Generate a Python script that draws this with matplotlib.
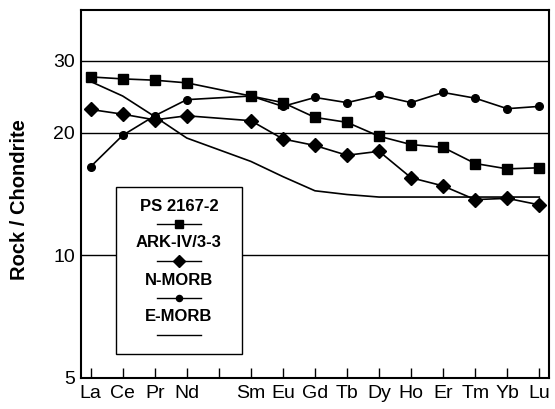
import matplotlib
matplotlib.use("Agg")
import matplotlib.pyplot as plt
from matplotlib.patches import Rectangle
from matplotlib.lines import Line2D

plt.rcParams['font.family'] = ['Liberation Sans', 'DejaVu Sans']

elements = ["La", "Ce", "Pr", "Nd", "Pm", "Sm", "Eu", "Gd", "Tb", "Dy", "Ho", "Er", "Tm", "Yb", "Lu"]
tick_labels = ["La", "Ce", "Pr", "Nd", "", "Sm", "Eu", "Gd", "Tb", "Dy", "Ho", "Er", "Tm", "Yb", "Lu"]
plot_elements = ["La", "Ce", "Pr", "Nd", "Sm", "Eu", "Gd", "Tb", "Dy", "Ho", "Er", "Tm", "Yb", "Lu"]

ps2167 = [27.4, 27.1, 26.9, 26.5, 24.6, 23.7, 21.8, 21.2, 19.6, 18.7, 18.4, 16.8, 16.3, 16.4]
ark = [22.8, 22.2, 21.5, 22.0, 21.4, 19.3, 18.6, 17.6, 18.0, 15.5, 14.8, 13.7, 13.8, 13.3]
nmorb = [16.5, 19.7, 22.0, 24.1, 24.6, 23.2, 24.4, 23.7, 24.7, 23.7, 25.1, 24.3, 22.9, 23.2]
emorb = [26.7, 24.6, 21.9, 19.4, 17.0, 15.6, 14.4, 14.1, 13.9, 13.9, 13.9, 13.9, 13.9, 13.9]

series_names = ["PS 2167-2", "ARK-IV/3-3", "N-MORB", "E-MORB"]
series_values = [ps2167, ark, nmorb, emorb]
markers = ["s", "D", "o", None]
msizes = [6.5, 7.5, 5.5, 0]

yticks = [5, 10, 20, 30]
gridvals = [10, 20, 30]

fig = plt.figure(figsize=(5.55, 4.09), dpi=100)
ax = fig.add_axes([0.146, 0.0758, 0.843, 0.8998])

xpos = [elements.index(e) for e in plot_elements]
for vals, m, ms in zip(series_values, markers, msizes):
    ax.plot(xpos, vals, color='black', lw=1.2, marker=m, markersize=ms, zorder=3)

for g in gridvals:
    ax.axhline(g, color='black', lw=1.0, zorder=1)

ax.set_yscale('log')
ax.set_ylim(5, 40)
ax.set_xlim(-0.3, 14.3)
ax.set_yticks(yticks)
ax.set_yticklabels([str(v) for v in yticks], fontsize=14)
ax.yaxis.set_minor_locator(matplotlib.ticker.NullLocator())
ax.tick_params(axis='y', length=0, pad=4.5)
ax.set_xticks(range(len(elements)))
ax.set_xticklabels(tick_labels, fontsize=14)
ax.tick_params(axis='x', direction='in', length=7, width=1.0, pad=5)
for s in ax.spines.values():
    s.set_linewidth(1.5)
ax.set_ylabel("Rock / Chondrite", fontsize=14.5, fontweight='bold')
ax.yaxis.set_label_coords(-0.112, 0.484)

# legend box
ax.add_patch(Rectangle((0.0748, 0.065), 0.2692, 0.454, transform=ax.transAxes,
                       facecolor='white', edgecolor='black', lw=1.0, zorder=4))
text_y = [0.465, 0.367, 0.264, 0.166]
line_y = [0.418, 0.318, 0.217, 0.117]
for name, m, ms, ty, ly in zip(series_names, markers, msizes, text_y, line_y):
    ax.text(0.209, ty, name, transform=ax.transAxes, ha='center', va='center',
            fontsize=12, fontweight='bold', zorder=5)
    ax.add_line(Line2D([0.162, 0.256], [ly, ly], transform=ax.transAxes, color='black', lw=1.0, zorder=5))
    if m is not None:
        ax.add_line(Line2D([0.209], [ly], transform=ax.transAxes, color='black', marker=m,
                           markersize=ms * 0.8, lw=0, zorder=5))

fig.savefig("out.png", dpi=100)
